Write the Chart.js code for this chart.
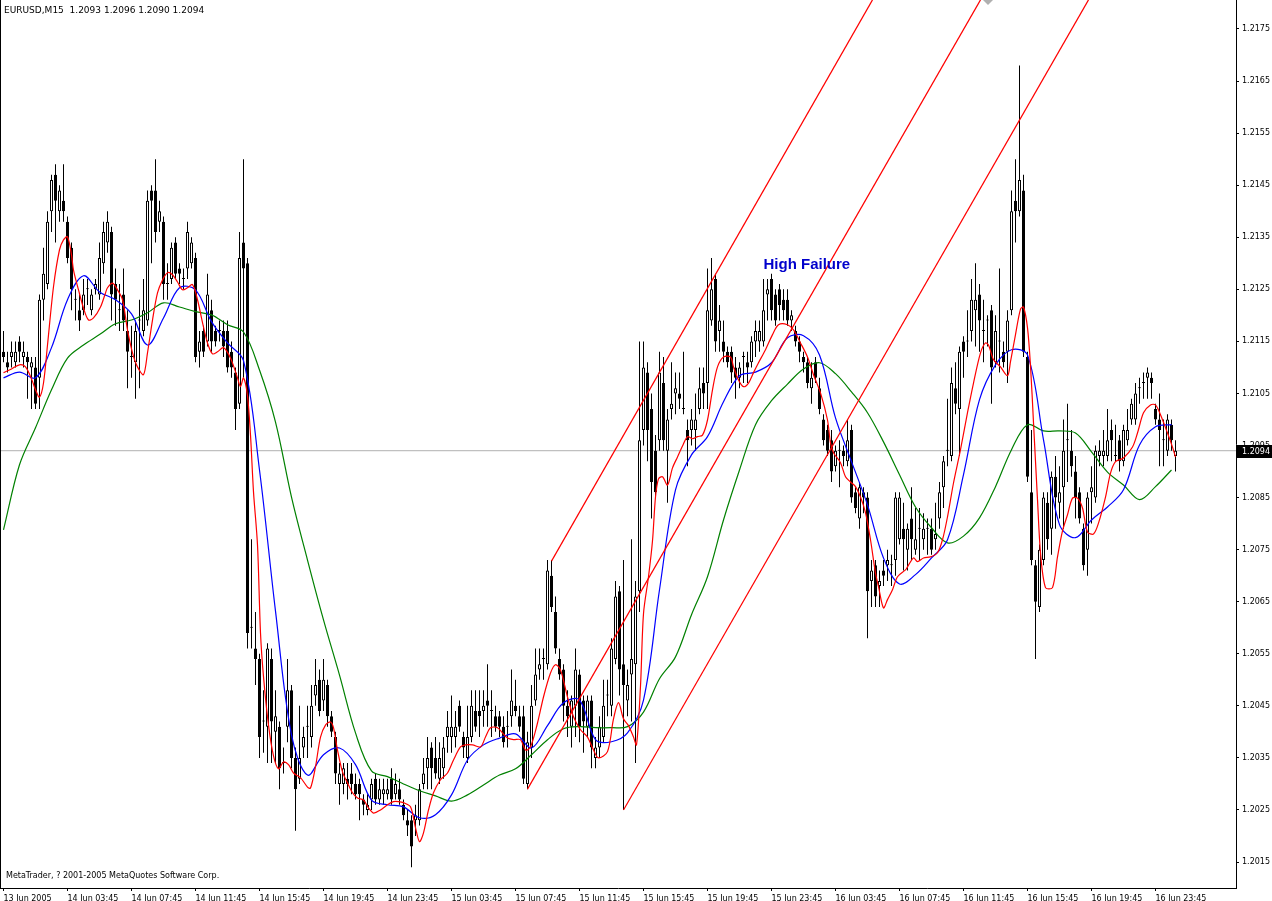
<!DOCTYPE html>
<html>
<head>
<meta charset="utf-8">
<script src="https://cdn.jsdelivr.net/npm/chart.js@4.4.1/dist/chart.umd.min.js"></script>
<style>
  html, body { margin: 0; padding: 0; background: #fff; }
  #wrap { position: relative; width: 1272px; height: 901px; overflow: hidden; }
  .txt { position: absolute; font-family: 'DejaVu Sans', sans-serif; color: #000; white-space: pre; line-height: 10px; }
  #hdr { left: 4px; top: 5px; font-size: 9px; }
  #ftr { left: 6px; top: 871px; font-size: 8px; }
</style>
</head>
<body>
<div id="wrap">
  <canvas id="chart" width="1272" height="901"></canvas>
  <div id="hdr" class="txt">EURUSD,M15  1.2093 1.2096 1.2090 1.2094</div>
  <div id="ftr" class="txt">MetaTrader, ? 2001-2005 MetaQuotes Software Corp.</div>
</div>
<script>
// EURUSD M15, one entry per bar (bar 0 = first candle on the left)
const opens = [
  1.2113,1.2111,1.2112,1.2111,1.2115,1.2112,1.2112,1.2110,1.2110,1.2108,
  1.2123,1.2126,1.2140,1.2147,1.2140,1.2142,1.2138,1.2133,1.2123,1.2121,
  1.2121,1.2125,1.2121,1.2125,1.2124,1.2130,1.2134,1.2136,1.2126,1.2121,
  1.2124,1.2117,1.2112,1.2111,1.2119,1.2117,1.2119,1.2144,1.2144,1.2138,
  1.2138,1.2126,1.2127,1.2134,1.2129,1.2127,1.2129,1.2130,1.2131,1.2113,
  1.2117,1.2115,1.2121,1.2117,1.2117,1.2117,1.2117,1.2113,1.2109,1.2103,
  1.2134,1.2130,1.2060,1.2056,1.2054,1.2042,1.2041,1.2054,1.2040,1.2041,
  1.2034,1.2041,1.2048,1.2035,1.2031,1.2037,1.2041,1.2039,1.2047,1.2050,
  1.2046,1.2049,1.2043,1.2039,1.2030,1.2030,1.2031,1.2032,1.2030,1.2030,
  1.2027,1.2025,1.2027,1.2031,1.2027,1.2028,1.2028,1.2031,1.2028,1.2029,
  1.2026,1.2023,1.2023,1.2023,1.2023,1.2030,1.2033,1.2037,1.2035,1.2031,
  1.2033,1.2039,1.2039,1.2039,1.2045,1.2039,1.2035,1.2039,1.2044,1.2044,
  1.2044,1.2046,1.2044,1.2043,1.2043,1.2041,1.2041,1.2043,1.2045,1.2043,
  1.2043,1.2030,1.2037,1.2046,1.2052,1.2054,1.2053,1.2070,1.2063,1.2054,
  1.2052,1.2045,1.2041,1.2045,1.2051,1.2046,1.2041,1.2046,1.2035,1.2037,
  1.2039,1.2047,1.2045,1.2054,1.2067,1.2053,1.2046,1.2051,1.2053,1.2067,
  1.2098,1.2109,1.2102,1.2094,1.2096,1.2107,1.2094,1.2102,1.2105,1.2105,
  1.2102,1.2098,1.2098,1.2098,1.2102,1.2107,1.2107,1.2119,1.2127,1.2117,
  1.2115,1.2113,1.2113,1.2110,1.2108,1.2112,1.2111,1.2111,1.2115,1.2115,
  1.2115,1.2124,1.2127,1.2124,1.2125,1.2123,1.2123,1.2119,1.2117,1.2115,
  1.2112,1.2111,1.2106,1.2111,1.2106,1.2100,1.2098,1.2096,1.2091,1.2094,
  1.2094,1.2092,1.2098,1.2086,1.2081,1.2086,1.2085,1.2069,1.2072,1.2068,
  1.2071,1.2072,1.2072,1.2073,1.2077,1.2079,1.2075,1.2081,1.2075,1.2079,
  1.2077,1.2079,1.2079,1.2077,1.2081,1.2087,1.2094,1.2093,1.2106,1.2102,
  1.2115,1.2115,1.2117,1.2121,1.2124,1.2117,1.2119,1.2121,1.2111,1.2115,
  1.2113,1.2113,1.2121,1.2142,1.2140,1.2144,1.2112,1.2086,1.2072,1.2064,
  1.2073,1.2084,1.2079,1.2089,1.2084,1.2087,1.2096,1.2094,1.2090,1.2086,
  1.2079,1.2075,1.2086,1.2085,1.2093,1.2093,1.2093,1.2098,1.2093,1.2096,
  1.2092,1.2096,1.2100,1.2100,1.2106,1.2107,1.2108,1.2108,1.2102,1.2100,
  1.2096,1.2094,1.2099,1.2093
];
const highs = [
  1.2117,1.2113,1.2115,1.2115,1.2116,1.2115,1.2113,1.2112,1.2112,1.2124,
  1.2133,1.2140,1.2147,1.2149,1.2145,1.2149,1.2139,1.2134,1.2125,1.2124,
  1.2127,1.2127,1.2125,1.2127,1.2134,1.2138,1.2140,1.2137,1.2129,1.2126,
  1.2129,1.2121,1.2118,1.2119,1.2123,1.2127,1.2144,1.2145,1.2150,1.2142,
  1.2139,1.2130,1.2134,1.2135,1.2130,1.2129,1.2138,1.2135,1.2132,1.2117,
  1.2118,1.2128,1.2123,1.2118,1.2119,1.2119,1.2119,1.2115,1.2110,1.2136,
  1.2150,1.2131,1.2077,1.2063,1.2055,1.2048,1.2057,1.2056,1.2048,1.2042,
  1.2037,1.2054,1.2049,1.2037,1.2045,1.2041,1.2045,1.2049,1.2054,1.2052,
  1.2054,1.2050,1.2044,1.2040,1.2034,1.2034,1.2034,1.2034,1.2032,1.2031,
  1.2028,1.2028,1.2031,1.2032,1.2031,1.2031,1.2031,1.2033,1.2032,1.2031,
  1.2027,1.2025,1.2024,1.2026,1.2030,1.2035,1.2039,1.2038,1.2039,1.2038,
  1.2039,1.2044,1.2047,1.2044,1.2046,1.2040,1.2045,1.2048,1.2048,1.2048,
  1.2048,1.2053,1.2048,1.2045,1.2044,1.2043,1.2044,1.2052,1.2050,1.2045,
  1.2045,1.2040,1.2049,1.2056,1.2056,1.2056,1.2073,1.2073,1.2066,1.2056,
  1.2053,1.2048,1.2047,1.2056,1.2052,1.2047,1.2047,1.2047,1.2039,1.2043,
  1.2050,1.2050,1.2058,1.2069,1.2068,1.2073,1.2052,1.2077,1.2069,1.2115,
  1.2115,1.2111,1.2105,1.2097,1.2113,1.2112,1.2102,1.2111,1.2109,1.2109,
  1.2113,1.2100,1.2102,1.2105,1.2110,1.2110,1.2129,1.2131,1.2128,1.2122,
  1.2119,1.2114,1.2114,1.2112,1.2111,1.2113,1.2113,1.2116,1.2119,1.2119,
  1.2127,1.2127,1.2128,1.2125,1.2126,1.2125,1.2125,1.2121,1.2118,1.2116,
  1.2113,1.2112,1.2111,1.2112,1.2108,1.2101,1.2099,1.2098,1.2095,1.2096,
  1.2095,1.2100,1.2099,1.2087,1.2088,1.2087,1.2086,1.2073,1.2073,1.2071,
  1.2073,1.2075,1.2074,1.2086,1.2086,1.2084,1.2080,1.2087,1.2083,1.2083,
  1.2082,1.2081,1.2081,1.2084,1.2088,1.2093,1.2104,1.2110,1.2111,1.2114,
  1.2116,1.2121,1.2127,1.2130,1.2126,1.2123,1.2120,1.2122,1.2120,1.2129,
  1.2115,1.2121,1.2144,1.2150,1.2168,1.2147,1.2113,1.2098,1.2073,1.2076,
  1.2086,1.2086,1.2090,1.2093,1.2091,1.2100,1.2103,1.2098,1.2093,1.2087,
  1.2080,1.2086,1.2091,1.2095,1.2096,1.2098,1.2102,1.2100,1.2099,1.2097,
  1.2099,1.2102,1.2104,1.2107,1.2108,1.2109,1.2110,1.2109,1.2103,1.2105,
  1.2100,1.2101,1.2100,1.2096
];
const lows = [
  1.2111,1.2109,1.2110,1.2110,1.2111,1.2110,1.2104,1.2102,1.2102,1.2102,
  1.2119,1.2125,1.2136,1.2134,1.2138,1.2138,1.2130,1.2121,1.2119,1.2117,
  1.2120,1.2122,1.2120,1.2124,1.2123,1.2128,1.2132,1.2119,1.2118,1.2117,
  1.2117,1.2106,1.2108,1.2104,1.2106,1.2116,1.2118,1.2130,1.2134,1.2136,
  1.2123,1.2123,1.2126,1.2127,1.2126,1.2125,1.2127,1.2129,1.2111,1.2110,
  1.2112,1.2114,1.2113,1.2114,1.2115,1.2112,1.2109,1.2108,1.2098,1.2102,
  1.2108,1.2056,1.2056,1.2049,1.2035,1.2036,1.2034,1.2034,1.2034,1.2029,
  1.2032,1.2038,1.2033,1.2021,1.2030,1.2035,1.2035,1.2037,1.2045,1.2043,
  1.2044,1.2041,1.2039,1.2030,1.2026,1.2028,1.2027,1.2028,1.2027,1.2023,
  1.2024,1.2024,1.2025,1.2026,1.2026,1.2026,1.2027,1.2026,1.2027,1.2026,
  1.2023,1.2020,1.2014,1.2020,1.2022,1.2029,1.2029,1.2029,1.2031,1.2030,
  1.2031,1.2036,1.2036,1.2037,1.2040,1.2035,1.2034,1.2038,1.2040,1.2039,
  1.2041,1.2041,1.2039,1.2040,1.2039,1.2037,1.2037,1.2041,1.2043,1.2040,
  1.2030,1.2029,1.2035,1.2045,1.2050,1.2050,1.2052,1.2063,1.2055,1.2050,
  1.2042,1.2039,1.2037,1.2039,1.2038,1.2036,1.2039,1.2033,1.2033,1.2035,
  1.2038,1.2043,1.2043,1.2053,1.2047,1.2025,1.2043,1.2042,1.2034,1.2063,
  1.2095,1.2092,1.2081,1.2085,1.2094,1.2094,1.2084,1.2100,1.2101,1.2102,
  1.2101,1.2091,1.2095,1.2094,1.2101,1.2102,1.2102,1.2118,1.2113,1.2113,
  1.2111,1.2110,1.2107,1.2104,1.2106,1.2107,1.2107,1.2110,1.2112,1.2113,
  1.2114,1.2119,1.2119,1.2118,1.2119,1.2119,1.2118,1.2117,1.2114,1.2111,
  1.2109,1.2106,1.2103,1.2107,1.2101,1.2095,1.2093,1.2088,1.2090,1.2087,
  1.2091,1.2091,1.2084,1.2082,1.2079,1.2082,1.2058,1.2064,1.2064,1.2064,
  1.2068,1.2069,1.2068,1.2070,1.2076,1.2071,1.2071,1.2073,1.2074,1.2073,
  1.2075,1.2074,1.2074,1.2075,1.2079,1.2083,1.2091,1.2092,1.2101,1.2093,
  1.2108,1.2112,1.2115,1.2114,1.2113,1.2111,1.2114,1.2103,1.2110,1.2109,
  1.2110,1.2107,1.2120,1.2134,1.2139,1.2112,1.2088,1.2072,1.2054,1.2063,
  1.2072,1.2075,1.2074,1.2079,1.2081,1.2079,1.2088,1.2089,1.2081,1.2080,
  1.2071,1.2070,1.2080,1.2084,1.2091,1.2091,1.2092,1.2092,1.2092,1.2090,
  1.2091,1.2095,1.2099,1.2099,1.2103,1.2104,1.2104,1.2104,1.2099,1.2091,
  1.2091,1.2093,1.2094,1.2090
];
const closes = [
  1.2112,1.2110,1.2113,1.2113,1.2113,1.2113,1.2111,1.2111,1.2103,1.2123,
  1.2128,1.2138,1.2146,1.2142,1.2144,1.2140,1.2131,1.2125,1.2123,1.2119,
  1.2124,1.2125,1.2124,1.2126,1.2131,1.2136,1.2138,1.2124,1.2123,1.2121,
  1.2119,1.2113,1.2112,1.2117,1.2119,1.2121,1.2142,1.2142,1.2136,1.2140,
  1.2126,1.2126,1.2133,1.2128,1.2128,1.2127,1.2136,1.2134,1.2112,1.2115,
  1.2113,1.2124,1.2115,1.2115,1.2117,1.2114,1.2110,1.2110,1.2102,1.2131,
  1.2129,1.2059,1.2060,1.2054,1.2039,1.2042,1.2056,1.2042,1.2043,1.2033,
  1.2034,1.2048,1.2035,1.2029,1.2035,1.2039,1.2041,1.2045,1.2049,1.2044,
  1.2050,1.2043,1.2040,1.2032,1.2032,1.2033,1.2030,1.2030,1.2028,1.2028,
  1.2026,1.2026,1.2030,1.2027,1.2029,1.2029,1.2029,1.2027,1.2030,1.2027,
  1.2024,1.2022,1.2018,1.2024,1.2029,1.2032,1.2035,1.2033,1.2032,1.2035,
  1.2037,1.2041,1.2041,1.2041,1.2041,1.2037,1.2039,1.2045,1.2041,1.2043,
  1.2045,1.2045,1.2044,1.2041,1.2041,1.2038,1.2041,1.2046,1.2044,1.2041,
  1.2031,1.2038,1.2045,1.2051,1.2053,1.2054,1.2071,1.2064,1.2056,1.2051,
  1.2045,1.2043,1.2046,1.2052,1.2041,1.2042,1.2046,1.2037,1.2037,1.2041,
  1.2045,1.2047,1.2056,1.2066,1.2052,1.2049,1.2049,1.2054,1.2066,1.2096,
  1.2110,1.2098,1.2088,1.2086,1.2109,1.2096,1.2100,1.2103,1.2106,1.2104,
  1.2102,1.2096,1.2100,1.2100,1.2106,1.2105,1.2121,1.2125,1.2115,1.2119,
  1.2113,1.2111,1.2109,1.2108,1.2110,1.2112,1.2110,1.2115,1.2117,1.2117,
  1.2121,1.2125,1.2121,1.2119,1.2122,1.2121,1.2119,1.2120,1.2115,1.2113,
  1.2111,1.2107,1.2108,1.2108,1.2102,1.2096,1.2094,1.2090,1.2094,1.2094,
  1.2093,1.2096,1.2085,1.2083,1.2087,1.2085,1.2067,1.2071,1.2066,1.2069,
  1.2070,1.2073,1.2072,1.2085,1.2085,1.2077,1.2079,1.2077,1.2077,1.2079,
  1.2079,1.2079,1.2075,1.2078,1.2086,1.2092,1.2094,1.2107,1.2103,1.2113,
  1.2113,1.2115,1.2123,1.2123,1.2119,1.2117,1.2119,1.2110,1.2117,1.2115,
  1.2111,1.2119,1.2140,1.2140,1.2146,1.2113,1.2089,1.2073,1.2065,1.2075,
  1.2085,1.2077,1.2089,1.2085,1.2086,1.2094,1.2096,1.2091,1.2085,1.2081,
  1.2072,1.2085,1.2087,1.2094,1.2094,1.2094,1.2096,1.2096,1.2093,1.2092,
  1.2098,1.2098,1.2103,1.2105,1.2106,1.2107,1.2109,1.2107,1.2100,1.2098,
  1.2096,1.2100,1.2096,1.2094
];

// moving averages
// red (fast): [bar, price]
const maFast = [
  [0,1.21090],[2,1.21097],[4,1.21105],[5.5,1.21101],[7,1.21078],[8,1.21057],[9,1.21043],[10,1.21070],
  [11,1.21143],[12.5,1.21255],[14,1.21326],[15,1.21345],[16,1.21351],[17,1.21316],[17.5,1.21287],
  [18.75,1.21249],[20,1.21214],[21.25,1.21191],[22.5,1.21195],[24.25,1.21216],[25.5,1.21243],
  [26,1.21253],[27.25,1.21262],[28.5,1.21249],[29.75,1.21230],[31,1.21172],[32.25,1.21128],
  [33.5,1.21101],[35,1.21086],[36,1.21128],[37.25,1.21191],[38.5,1.21243],[39.75,1.21268],
  [41,1.21282],[42.25,1.21278],[43.5,1.21264],[44.75,1.21249],[46,1.21253],[47.25,1.21259],
  [48.5,1.21230],[49.75,1.21186],[51,1.21147],[52.25,1.21126],[53.5,1.21130],[55,1.21138],
  [56.75,1.21118],[58.5,1.21080],[59.25,1.21063],[60,1.21080],[61,1.21045],[61.75,1.20970],
  [62.5,1.20861],[63.5,1.20759],[64.25,1.20590],[65,1.20506],[66.25,1.20413],[67.5,1.20354],
  [68.75,1.20329],[70,1.20342],[71.25,1.20337],[72.5,1.20321],[74.25,1.20312],[76,1.20294],
  [76.75,1.20292],[78,1.20333],[79.25,1.20390],[80.5,1.20413],[81.75,1.20419],[82.5,1.20408],
  [83.5,1.20365],[84.75,1.20323],[86,1.20302],[87.25,1.20283],[88.5,1.20273],[90,1.20269],
  [91.25,1.20254],[92.5,1.20244],[94.25,1.20250],[96,1.20260],[97.5,1.20266],[98.75,1.20266],
  [100,1.20264],[101.75,1.20256],[103,1.20216],[104,1.20189],[105,1.20206],[106.25,1.20250],
  [107.5,1.20283],[109.25,1.20308],[111,1.20321],[112.5,1.20346],[114.25,1.20371],[115.5,1.20375],
  [117.25,1.20375],[119.25,1.20371],[120.5,1.20390],[121.75,1.20408],[123.5,1.20408],[124.75,1.20398],
  [126,1.20388],[127.5,1.20385],[129.25,1.20385],[130.5,1.20365],[131.75,1.20371],[133.5,1.20417],
  [135,1.20467],[136.75,1.20513],[138,1.20529],[139.25,1.20519],[141,1.20467],[142.5,1.20429],
  [144.25,1.20404],[146,1.20390],[147.5,1.20365],[148.75,1.20350],[151,1.20362],[152.5,1.20425],
  [153.75,1.20456],[155,1.20425],[156.25,1.20412],[157.5,1.20390],[158.25,1.20375],[159.25,1.20488],
  [160,1.20627],[161.25,1.20698],[162.25,1.20767],[163,1.20851],[163.75,1.20886],[164.75,1.20890],
  [166,1.20874],[167.25,1.20907],[168.5,1.20928],[169.75,1.20949],[171,1.20967],[172.25,1.20963],
  [173.5,1.20967],[174.75,1.20970],[176,1.20999],[177.25,1.21057],[178.5,1.21101],[180,1.21120],
  [181.75,1.21120],[182.5,1.21101],[183.75,1.21076],[185,1.21063],[186.25,1.21070],[187.5,1.21090],
  [188.75,1.21109],[190.5,1.21134],[192.25,1.21163],[193.75,1.21182],[196,1.21182],[197.5,1.21172],
  [199.25,1.21147],[201,1.21120],[202.5,1.21086],[204.25,1.21051],[206,1.20999],[206.75,1.20955],
  [207.5,1.20936],[209.25,1.20917],[210.5,1.20890],[211.75,1.20880],[213,1.20871],[214.25,1.20851],
  [215.5,1.20821],[216.75,1.20769],[218,1.20705],[218.75,1.20679],[220,1.20638],[221,1.20654],
  [222.25,1.20673],[223.5,1.20698],[225.5,1.20711],[226,1.20717],[227.5,1.20734],[228.5,1.20727],
  [230,1.20734],[231.75,1.20736],[233.5,1.20744],[234.75,1.20769],[236,1.20813],[237.5,1.20878],
  [239.25,1.20942],[241,1.21013],[242.5,1.21070],[244.25,1.21128],[245.5,1.21147],[246.25,1.21143],
  [247.5,1.21115],[249.25,1.21101],[251,1.21084],[251.75,1.21111],[253,1.21163],[254.25,1.21212],
  [255,1.21216],[256,1.21176],[256.75,1.21103],[257.5,1.20994],[258.5,1.20846],[259.25,1.20744],
  [260.5,1.20677],[262.25,1.20677],[263.5,1.20736],[264.75,1.20786],[266,1.20817],[267.25,1.20849],
  [268.5,1.20849],[269.75,1.20830],[271,1.20784],[272.5,1.20780],[273.75,1.20801],[275.5,1.20851],
  [276.75,1.20897],[278,1.20919],[280,1.20926],[282.25,1.20947],[283.5,1.20974],[285,1.21013],
  [286.75,1.21028],[288,1.21028],[289.25,1.21009],[291,1.20974],[292.25,1.20947],[293,1.20928]
];
// blue and green: one value every maStep bars from bar 0
const maStep = 4;
const maMid = [
  1.21080,1.21091,1.21080,1.21138,1.21230,1.21276,1.21245,1.21230,1.21203,1.21143,
  1.21195,1.21253,1.21249,1.21188,1.21147,1.21113,1.20903,1.20632,1.20394,1.20317,
  1.20356,1.20369,1.20337,1.20269,1.20260,1.20256,1.20235,1.20241,1.20279,1.20346,
  1.20375,1.20388,1.20396,1.20369,1.20412,1.20456,1.20461,1.20385,1.20381,1.20398,
  1.20461,1.20673,1.20865,1.20932,1.20967,1.21034,1.21084,1.21091,1.21109,1.21157,
  1.21161,1.21124,1.21003,1.20919,1.20836,1.20734,1.20684,1.20702,1.20734,1.20769,
  1.20894,1.21038,1.21105,1.21134,1.21124,1.20961,1.20798,1.20773,1.20807,1.20832,
  1.20865,1.20951,1.20986,1.20990
];
const maSlow = [
  1.20788,1.20913,1.20984,1.21057,1.21118,1.21143,1.21163,1.21184,1.21191,1.21205,
  1.21224,1.21216,1.21207,1.21201,1.21182,1.21168,1.21095,1.20995,1.20851,1.20730,
  1.20615,1.20509,1.20398,1.20325,1.20314,1.20300,1.20287,1.20277,1.20267,1.20279,
  1.20298,1.20317,1.20329,1.20356,1.20385,1.20406,1.20410,1.20408,1.20408,1.20410,
  1.20438,1.20502,1.20544,1.20625,1.20698,1.20807,1.20903,1.20990,1.21036,1.21068,
  1.21097,1.21109,1.21088,1.21053,1.21013,1.20957,1.20894,1.20832,1.20792,1.20763,
  1.20776,1.20811,1.20871,1.20942,1.20990,1.20978,1.20978,1.20974,1.20938,1.20899,
  1.20874,1.20846,1.20871,1.20903
];

// three parallel trend lines: [[bar, price], [bar, price]]
const pitchfork = [
  [[137, 1.20728], [217.25, 1.21806]],
  [[131, 1.20290], [244.25, 1.21806]],
  [[155, 1.20250], [271.25, 1.21806]]
];

const note = { text: 'High Failure', bar: 190, price: 1.21297 };
const bidPrice = 1.2094;
const shiftBar = 246;

const timeLabels = ['13 Jun 2005', '14 Jun 03:45', '14 Jun 07:45', '14 Jun 11:45', '14 Jun 15:45',
  '14 Jun 19:45', '14 Jun 23:45', '15 Jun 03:45', '15 Jun 07:45', '15 Jun 11:45', '15 Jun 15:45',
  '15 Jun 19:45', '15 Jun 23:45', '16 Jun 03:45', '16 Jun 07:45', '16 Jun 11:45', '16 Jun 15:45',
  '16 Jun 19:45', '16 Jun 23:45'];
const labelStep = 16;
const priceTicks = [1.2015, 1.2025, 1.2035, 1.2045, 1.2055, 1.2065, 1.2075, 1.2085, 1.2095,
  1.2105, 1.2115, 1.2125, 1.2135, 1.2145, 1.2155, 1.2165, 1.2175];

const X_MIN = -0.875, X_MAX = 308.125;
const Y_MIN = 1.201001, Y_MAX = 1.218057;

const barIdx = opens.map((_, i) => i);
const wickData = barIdx.map(i => ({ x: i, y: [lows[i], highs[i]] }));
const bodyData = barIdx.map(i => ({ x: i, y: [Math.min(opens[i], closes[i]), Math.max(opens[i], closes[i])] }));
const bodyFill = barIdx.map(i => closes[i] > opens[i] ? '#ffffff' : '#000000');

function lineSet(data, color, order, tension) {
  return { type: 'line', data, borderColor: color, borderWidth: 1.2, pointRadius: 0,
    tension, fill: false, order };
}

const overlay = {
  id: 'overlay',
  afterDraw(chart) {
    const { ctx, chartArea, scales: { x, y } } = chart;
    ctx.save();
    // left frame
    ctx.fillStyle = '#000';
    ctx.fillRect(chartArea.left, chartArea.top, 1, chartArea.bottom - chartArea.top);

    // text object
    ctx.font = 'bold 15px "Liberation Sans", Arial, sans-serif';
    ctx.fillStyle = '#0000CC';
    ctx.textBaseline = 'middle';
    ctx.textAlign = 'left';
    ctx.fillText(note.text, x.getPixelForValue(note.bar), y.getPixelForValue(note.price));

    // current price box on the scale
    const py = Math.round(y.getPixelForValue(bidPrice));
    ctx.fillStyle = '#000';
    ctx.fillRect(chartArea.right + 1, py - 6, chart.width - chartArea.right - 1, 13);
    ctx.fillStyle = '#fff';
    ctx.font = '8px "DejaVu Sans", sans-serif';
    ctx.fillText(bidPrice.toFixed(4), chartArea.right + 6, py + 0.5);

    // chart shift marker
    const tx = Math.round(x.getPixelForValue(shiftBar));
    ctx.fillStyle = '#b0b0b0';
    ctx.beginPath();
    ctx.moveTo(tx - 5, 0); ctx.lineTo(tx + 5, 0); ctx.lineTo(tx, 5);
    ctx.closePath(); ctx.fill();
    ctx.restore();
  }
};

Chart.defaults.font.family = '"DejaVu Sans", sans-serif';
Chart.defaults.font.size = 8;
Chart.defaults.color = '#000';

new Chart(document.getElementById('chart'), {
  type: 'bar',
  data: {
    datasets: [
      lineSet([{ x: X_MIN, y: bidPrice }, { x: X_MAX, y: bidPrice }], '#c0c0c0', 50, 0),
      { type: 'bar', data: wickData, backgroundColor: '#000', borderWidth: 0, barThickness: 1,
        grouped: false, inflateAmount: 0, order: 40 },
      { type: 'bar', data: bodyData, backgroundColor: bodyFill, borderColor: '#000', borderWidth: 1,
        borderSkipped: false, barThickness: 3, minBarLength: 1, grouped: false, inflateAmount: 0, order: 30 },
      lineSet(maSlow.map((v, k) => ({ x: k * maStep, y: v })), '#008000', 5, 0.35),
      lineSet(maMid.map((v, k) => ({ x: k * maStep, y: v })), '#0000ff', 4, 0.35),
      lineSet(maFast.map(([b, v]) => ({ x: b, y: v })), '#ff0000', 3, 0.3),
      ...pitchfork.map(seg => lineSet(seg.map(([b, v]) => ({ x: b, y: v })), '#ff0000', 2, 0))
    ]
  },
  options: {
    responsive: false,
    animation: false,
    events: [],
    layout: { padding: 0 },
    plugins: { legend: { display: false }, tooltip: { enabled: false } },
    scales: {
      x: {
        type: 'linear', min: X_MIN, max: X_MAX, offset: false,
        afterFit: s => { s.height = 13; s.paddingLeft = 0; s.paddingRight = 0; },
        afterBuildTicks: s => { s.ticks = timeLabels.map((_, k) => ({ value: k * labelStep })); },
        grid: { drawOnChartArea: false, offset: false, tickLength: 3, color: '#000' },
        border: { display: true, color: '#000' },
        ticks: { autoSkip: false, maxRotation: 0, minRotation: 0, align: 'start', padding: 3,
          callback: v => timeLabels[Math.round(v / labelStep)] }
      },
      y: {
        type: 'linear', position: 'right', min: Y_MIN, max: Y_MAX,
        afterFit: s => { s.width = 36; s.paddingTop = 0; s.paddingBottom = 0; },
        afterBuildTicks: s => { s.ticks = priceTicks.map(v => ({ value: v })); },
        grid: { drawOnChartArea: false, tickLength: 3, color: '#000' },
        border: { display: true, color: '#000' },
        ticks: { autoSkip: false, padding: 3, callback: v => v.toFixed(4) }
      }
    }
  },
  plugins: [overlay]
});
</script>
</body>
</html>
